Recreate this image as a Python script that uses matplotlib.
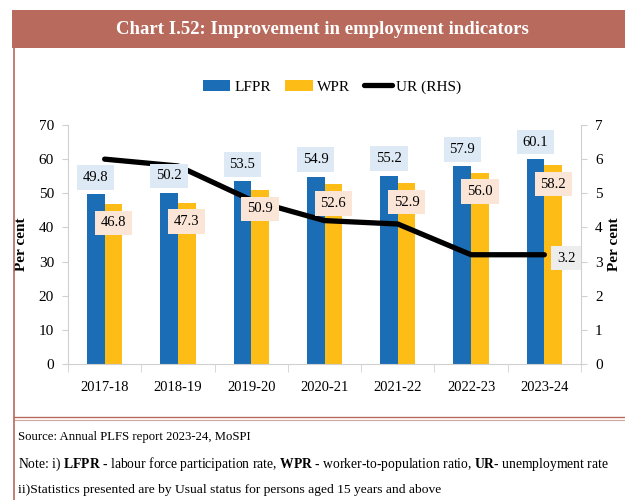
import numpy as np
import matplotlib.pyplot as plt
from matplotlib.patches import Rectangle
from matplotlib.lines import Line2D

plt.rcParams['font.family'] = ['Liberation Serif', 'DejaVu Serif']
plt.rcParams['mathtext.fontset'] = 'custom'
plt.rcParams['mathtext.rm'] = 'Liberation Serif'
plt.rcParams['mathtext.bf'] = 'Liberation Serif:bold'

years = ['2017-18', '2018-19', '2019-20', '2020-21', '2021-22', '2022-23', '2023-24']
lfpr = [49.8, 50.2, 53.5, 54.9, 55.2, 57.9, 60.1]
wpr = [46.8, 47.3, 50.9, 52.6, 52.9, 56.0, 58.2]
ur = [6.0, 5.8, 4.8, 4.2, 4.1, 3.2, 3.2]

blue = '#1B6DB5'
yellow = '#FDBC16'
frame = '#B86A5C'
spine = '#D0D0D0'

fig = plt.figure(figsize=(6.25, 5), dpi=100)

# title banner and frame
fig.patches.append(Rectangle((12/625, 1-48/500), 1, 38/500, transform=fig.transFigure,
                             facecolor=frame, edgecolor='none'))
fig.text(322/625, 1-30/500, 'Chart I.52: Improvement in employment indicators',
         color='white', fontsize=13.5, fontweight='bold', ha='center', va='center')
fig.add_artist(Line2D([14/625, 14/625], [0, 1-48/500], color=frame, lw=1.2))
fig.add_artist(Line2D([14/625, 1], [1-417/500, 1-417/500], color=frame, lw=1.0))
fig.add_artist(Line2D([14/625, 1], [1-420/500, 1-420/500], color=frame, lw=0.8, alpha=0.6))

ax = fig.add_axes([68/625, 1-364/500, 513/625, 239/500])
x = np.arange(len(years))
w = 0.24
ax.bar(x - w/2, lfpr, w, color=blue, label='LFPR')
ax.bar(x + w/2, wpr, w, color=yellow, label='WPR')
ax.set_ylim(0, 70)
ax.set_xlim(-0.5, len(years) - 0.5)
ax.set_yticks(range(0, 71, 10))
ax.set_xticks(x)
ax.set_xticklabels(years)
ax.set_xticks(np.arange(-0.5, len(years), 1), minor=True)
ax.tick_params(axis='x', which='major', length=0, pad=12, labelsize=10.5)
ax.tick_params(axis='x', which='minor', length=6, color=spine)
ax.tick_params(axis='y', length=4, color=spine, labelsize=11, pad=6)
ax.set_ylabel('Per cent', fontsize=11, fontweight='bold', labelpad=8)
for s in ['top', 'right']:
    ax.spines[s].set_visible(False)
for s in ['left', 'bottom']:
    ax.spines[s].set_color(spine)

ax2 = ax.twinx()
ax2.plot(x, ur, color='black', lw=3.8, solid_capstyle='round', label='UR (RHS)', zorder=2)
ax2.set_ylim(0, 7)
ax2.set_yticks(range(0, 8))
ax2.tick_params(axis='y', length=4, color=spine, labelsize=11, pad=6)
ax2.set_ylabel('Per cent', fontsize=11, fontweight='bold', labelpad=4)
for s in ['top', 'left', 'bottom']:
    ax2.spines[s].set_visible(False)
ax2.spines['right'].set_color(spine)

# data labels drawn on top of the line
for i in range(len(years)):
    ax2.text(x[i] - w/2, lfpr[i] + 4.9, f'{lfpr[i]:.1f}', transform=ax.transData,
             ha='center', va='center', fontsize=10.5, zorder=5,
             bbox=dict(boxstyle='square,pad=0.4', facecolor='#DDEAF6', edgecolor='none'))
    ax2.text(x[i] + w/2, wpr[i] - 5.5, f'{wpr[i]:.1f}', transform=ax.transData,
             ha='center', va='center', fontsize=10.5, zorder=5,
             bbox=dict(boxstyle='square,pad=0.4', facecolor='#FBE5D6', edgecolor='none'))
ax2.text(x[-1] + 0.3, ur[-1] - 0.1, f'{ur[-1]:.1f}', ha='center', va='center', fontsize=10.5,
         zorder=5, bbox=dict(boxstyle='square,pad=0.4', facecolor='#EDEDED', edgecolor='none'))

h1, l1 = ax.get_legend_handles_labels()
h2, l2 = ax2.get_legend_handles_labels()
fig.legend(h1 + h2, l1 + l2, loc='center', bbox_to_anchor=(332/625, 1-87/500), ncol=3,
           frameon=False, fontsize=11, handlelength=1.8, handleheight=0.7,
           columnspacing=0.9, handletextpad=0.3)

fig.text(18/625, 1-437/500, 'Source: Annual PLFS report 2023-24, MoSPI', fontsize=9.2, va='center')
fig.text(18/625, 1-464/500, r'Note: i) $\mathbf{LFPR}$ - labour force participation rate, '
         r'$\mathbf{WPR}$ - worker-to-population ratio, $\mathbf{UR}$- unemployment rate',
         fontsize=9.8, va='center')
fig.text(18/625, 1-490/500, 'ii)Statistics presented are by Usual status for persons aged 15 years and above',
         fontsize=9.7, va='center')

fig.savefig('out.png', dpi=100)
